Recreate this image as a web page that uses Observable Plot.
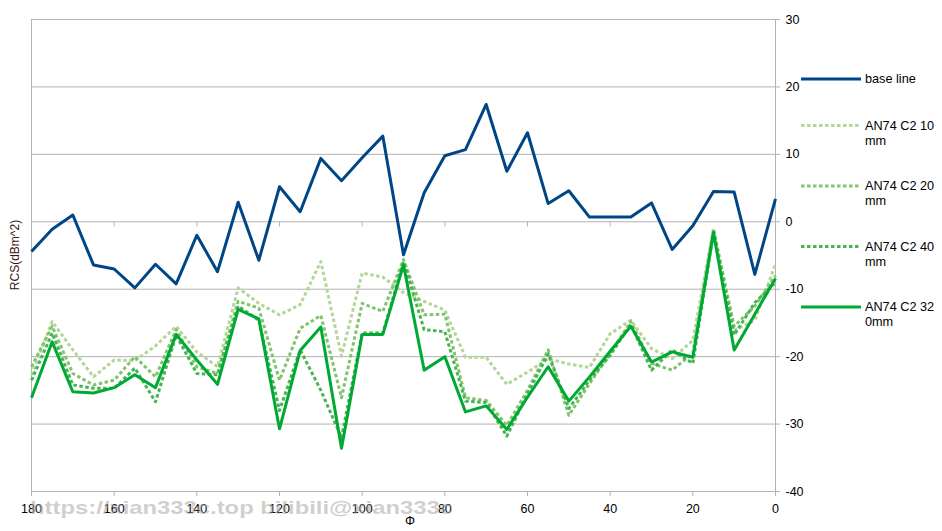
<!DOCTYPE html>
<html><head><meta charset="utf-8">
<script src="https://cdn.jsdelivr.net/npm/d3@7"></script>
<script src="https://cdn.jsdelivr.net/npm/@observablehq/plot@0.6"></script>
<style>body{margin:0;background:#fff;font-family:"Liberation Sans",Arial,sans-serif}</style>
</head><body><div id="chart"></div>
<script>
const phi = [180,175,170,165,160,155,150,145,140,135,130,125,120,115,110,105,100,95,90,85,80,75,70,65,60,55,50,45,40,35,30,25,20,15,10,5,0];
const baseLine = [-4.4,-1.1,1.0,-6.4,-7.0,-9.8,-6.3,-9.2,-2.0,-7.4, 2.9,-5.7,5.2,1.5,9.4,6.1,9.5,12.7,-4.9,4.3, 9.8,10.7,17.4,7.5,13.2,2.7,4.6,0.7,0.7,0.7, 2.8,-4.1,-0.6,4.5,4.4,-7.8,3.4];
const an74_10mm = [-22.7,-14.8,-19.0,-23.0,-20.5,-20.6,-18.4,-15.5,-19.3,-21.5, -9.8,-12.1,-13.8,-12.3,-5.9,-19.9,-7.6,-8.2,-10.5,-11.8, -13.1,-20.1,-20.1,-24.1,-22.3,-20.3,-21.1,-21.6,-16.6,-14.6, -18.8,-20.3,-17.6,-1.0,-16.1,-14.6,-6.3];
const an74_20mm = [-21.5,-15.5,-22.5,-24.2,-23.5,-20.0,-23.0,-16.0,-21.5,-22.5, -11.8,-12.8,-23.5,-15.8,-13.9,-26.1,-12.1,-13.3,-5.6,-13.8, -13.7,-26.1,-26.5,-30.2,-25.0,-19.0,-28.7,-24.0,-19.5,-14.8, -21.0,-22.0,-19.5,-1.2,-15.5,-12.5,-8.0];
const an74_40mm = [-23.5,-16.5,-24.2,-24.7,-24.7,-21.7,-26.7,-16.8,-22.5,-22.7, -12.5,-14.6,-28.0,-19.0,-25.0,-32.0,-16.5,-16.5,-5.9,-16.0, -16.3,-26.6,-26.8,-31.8,-25.5,-19.6,-27.7,-23.5,-19.8,-15.2, -22.0,-19.0,-21.0,-1.5,-16.8,-12.0,-9.0];
const an74_320mm = [-26.1,-17.8,-25.2,-25.4,-24.6,-22.7,-24.6,-16.7,-20.5,-24.1, -13.0,-14.4,-30.7,-19.1,-15.6,-33.6,-16.7,-16.7,-6.4,-22.0, -20.0,-28.2,-27.3,-30.8,-26.0,-21.5,-26.6,-23.0,-19.2,-15.5, -20.8,-19.3,-20.1,-1.6,-19.0,-13.7,-8.4];
const seriesNames = ["base line","AN74 C2 10 mm","AN74 C2 20 mm","AN74 C2 40 mm","AN74 C2 320mm"];
const legendLabels = [["base line"],["AN74 C2 10","mm"],["AN74 C2 20","mm"],["AN74 C2 40","mm"],["AN74 C2 32","0mm"]];
const xTicks = [180,160,140,120,100,80,60,40,20,0];
const yTicks = [-40,-30,-20,-10,0,10,20,30];
const xLabel = "Φ";
const yLabel = "RCS(dBm^2)";
const watermark = "https://xian333c.top bilibili@xian333c";

const allValues = [baseLine, an74_10mm, an74_20mm, an74_40mm, an74_320mm];
const colors = ["#004586","#b2d797","#80c46c","#45b552","#00a933"];
const dashes = [null,"3.5,2.5","3.5,2.5","3.5,2.5",null];

const lineMarks = allValues.map((vals,i) => Plot.line(
  phi.map((p,j)=>({phi:p, v:vals[j], s:seriesNames[i]})),
  {x:"phi", y:"v", stroke: colors[i], strokeWidth: 3, strokeDasharray: dashes[i] ?? undefined,
   strokeLinejoin: "round", strokeLinecap: "butt"}));

const chart = Plot.plot({
  width: 942, height: 531,
  marginLeft: 31, marginRight: 167, marginTop: 19, marginBottom: 40,
  style: {fontFamily: "'Liberation Sans', Arial, sans-serif", fontSize: "12.5px", color: "#000", background: "#fff", overflow: "visible"},
  x: {domain: [180, 0], label: null},
  y: {domain: [-40, 30], label: null},
  marks: [
    Plot.gridY(yTicks, {stroke: "#b3b3b3", strokeOpacity: 1}),
    Plot.ruleX([180, 0], {stroke: "#b3b3b3"}),
    Plot.ruleX(xTicks, {y1: 0, y2: -0.75, stroke: "#b3b3b3"}),
    Plot.axisX(xTicks, {anchor: "bottom", tickSize: 5, tickPadding: 8, stroke: "#b3b3b3", label: null, tickFormat: d => String(d), fill: "#000"}),
    Plot.axisY(yTicks, {anchor: "right", tickSize: 4, tickPadding: 6, stroke: "#b3b3b3", label: null, tickFormat: d => String(d), fill: "#000", textAnchor: "start"}),
    ...lineMarks
  ]
});
document.getElementById("chart").appendChild(chart);

const svg = d3.select(chart);
// axis titles
svg.append("text").attr("x", 410).attr("y", 525).attr("text-anchor", "middle")
  .attr("font-size", 12.5).attr("fill", "#000").text(xLabel);
svg.append("text").attr("transform", "translate(19,255) rotate(-90)").attr("text-anchor", "middle")
  .attr("font-size", 12).attr("fill", "#3a1414").text(yLabel);
// legend
const legendY = [79, 125.5, 186, 246.5, 307];
const lg = svg.append("g").attr("font-size", 12.7).attr("fill", "#000").attr("text-anchor", "start");
legendLabels.forEach((lines, i) => {
  const y = legendY[i];
  const l = lg.append("line").attr("x1", 801).attr("x2", 861).attr("y1", y).attr("y2", y)
    .attr("stroke", colors[i]).attr("stroke-width", 3);
  if (dashes[i]) l.attr("stroke-dasharray", dashes[i]);
  lines.forEach((t, k) => {
    lg.append("text").attr("x", 865).attr("y", y + k * 15).attr("dy", "0.35em").text(t);
  });
});
// watermark
svg.append("text").attr("x", 30).attr("y", 514).attr("font-size", 19).attr("font-weight", "bold")
  .attr("text-anchor", "start")
  .attr("fill", "rgba(160,160,160,0.5)").attr("textLength", 423).attr("lengthAdjust", "spacingAndGlyphs")
  .text(watermark);
</script>
</body></html>
